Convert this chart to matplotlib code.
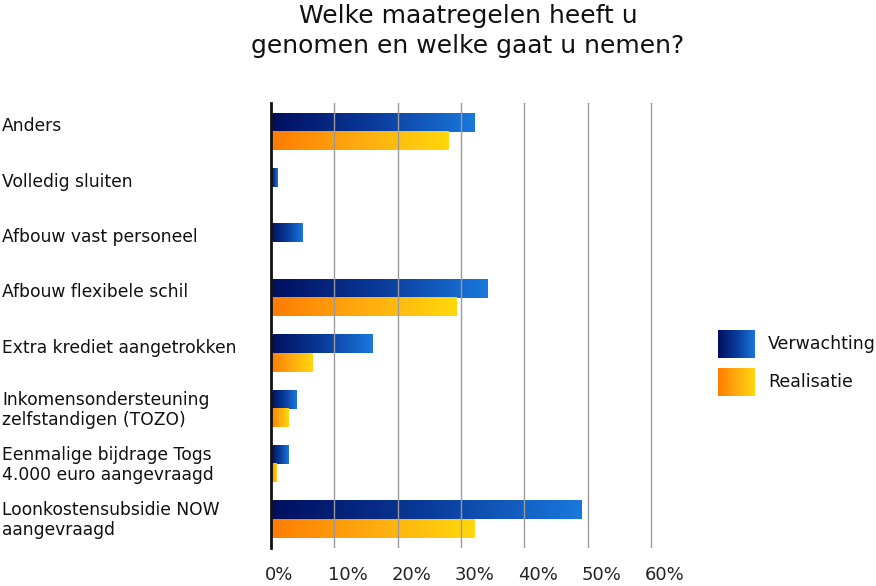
import numpy as np
import matplotlib
matplotlib.use('Agg')
import matplotlib.pyplot as plt
from matplotlib.colors import LinearSegmentedColormap
from matplotlib.transforms import blended_transform_factory, ScaledTranslation

plt.rcParams['font.family'] = ['DejaVu Sans']

# data, top to bottom
categories = ['Anders', 'Volledig sluiten', 'Afbouw vast personeel',
              'Afbouw flexibele schil', 'Extra krediet aangetrokken',
              'Inkomensondersteuning\nzelfstandigen (TOZO)',
              'Eenmalige bijdrage Togs\n4.000 euro aangevraagd',
              'Loonkostensubsidie NOW\naangevraagd']
verwachting = [0.321, 0.011, 0.050, 0.342, 0.161, 0.041, 0.027, 0.490]
realisatie = [0.280, 0.0, 0.0, 0.293, 0.065, 0.027, 0.008, 0.321]
xticks = [0, 0.1, 0.2, 0.3, 0.4, 0.5, 0.6]
xticklabels = ['0%', '10%', '20%', '30%', '40%', '50%', '60%']
series_names = ['Verwachting', 'Realisatie']

cmap_v = LinearSegmentedColormap.from_list('v', ['#000f5e', '#0a3a9a', '#1a78dc'])
cmap_r = LinearSegmentedColormap.from_list('r', ['#ff7c00', '#ffab10', '#ffd80c'])
grad = np.linspace(0, 1, 256).reshape(1, -1)

dpi = 100
fig = plt.figure(figsize=(8.76, 5.86), dpi=dpi)
W, H = 876, 586
x0, x1 = 271, 654
y0, y1 = 103, 548
ax = fig.add_axes([x0 / W, 1 - y1 / H, (x1 - x0) / W, (y1 - y0) / H])

n = len(categories)
h = 0.335
for i in range(n):
    if verwachting[i] > 0:
        ax.imshow(grad, cmap=cmap_v, aspect='auto', interpolation='bilinear',
                  extent=[0, verwachting[i], i, i - h], zorder=2)
    if realisatie[i] > 0:
        ax.imshow(grad, cmap=cmap_r, aspect='auto', interpolation='bilinear',
                  extent=[0, realisatie[i], i + h, i], zorder=2)

ax.set_xlim(0, 0.605)
ax.set_ylim(n - 0.48, -0.52)

for t in xticks[1:]:
    ax.axvline(t, color='#9a9a9a', lw=1.0, zorder=3)

for s in ['top', 'right', 'bottom']:
    ax.spines[s].set_visible(False)
ax.spines['left'].set_linewidth(2)
ax.spines['left'].set_color('#111111')
ax.spines['left'].set_zorder(5)

ax.set_yticks([])
ax.set_xticks(xticks)
ax.set_xticklabels(xticklabels, ha='left', fontsize=13, color='#222222')
ax.tick_params(axis='x', length=0, pad=13)
off = ScaledTranslation(-6 / dpi, 0, fig.dpi_scale_trans)
for lab in ax.get_xticklabels():
    lab.set_transform(lab.get_transform() + off)

tr = blended_transform_factory(fig.transFigure, ax.transData)
for i, c in enumerate(categories):
    dy = 0.02 if '\n' in c else -0.1
    ax.text(2 / W, i + dy, c, transform=tr, ha='left', va='center',
            fontsize=12.3, color='#111111', linespacing=1.15)

fig.text(468 / W, 1 - 31 / H, 'Welke maatregelen heeft u\ngenomen en welke gaat u nemen?',
         ha='center', va='center', fontsize=18, color='#111111', linespacing=1.3)

# legend
for k, (name, cm) in enumerate(zip(series_names, [cmap_v, cmap_r])):
    top = 330 + k * 38
    lax = fig.add_axes([718 / W, 1 - (top + 28) / H, 37 / W, 28 / H])
    lax.imshow(grad, cmap=cm, aspect='auto', interpolation='bilinear')
    lax.axis('off')
    fig.text(768 / W, 1 - (top + 14) / H, name, ha='left', va='center',
             fontsize=12.5, color='#111111')

fig.savefig('out.png', dpi=dpi)
